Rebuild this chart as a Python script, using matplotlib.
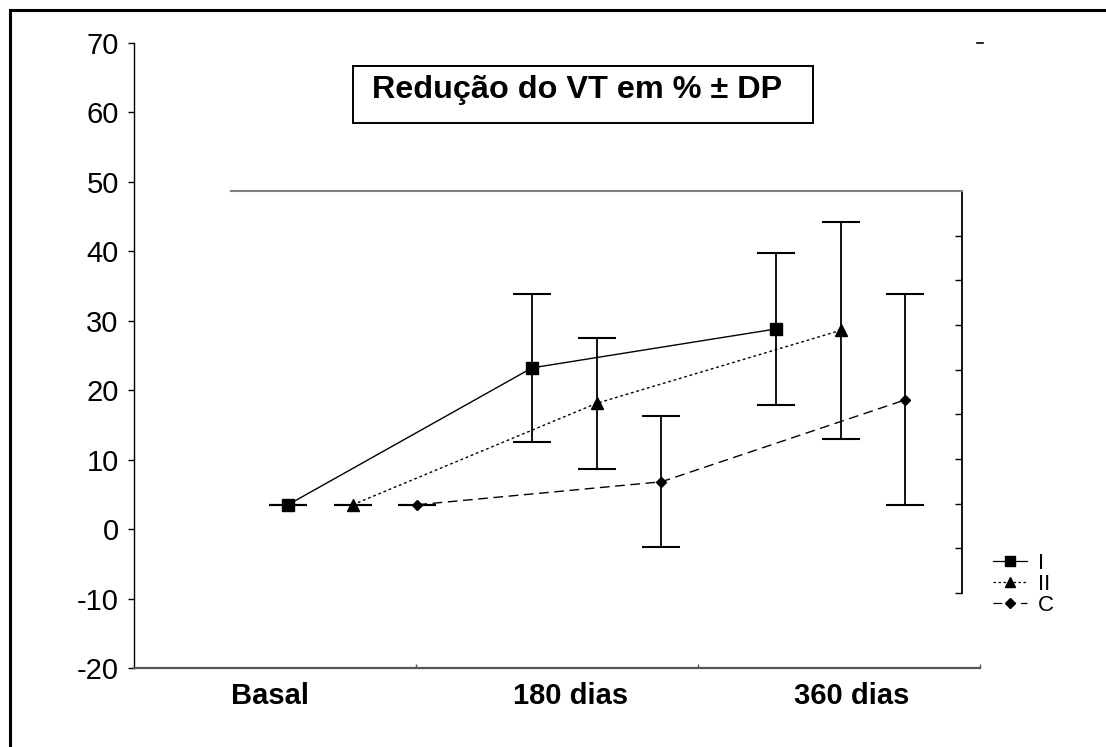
"""
Redução do VT em % ± DP — line chart with error bars for groups I, II and C.
"""

import matplotlib.pyplot as plt
from matplotlib.lines import Line2D
from matplotlib.patches import Rectangle

plt.rcParams["font.family"] = ["Liberation Sans", "DejaVu Sans"]

# ---------------------------------------------------------------------------
# Data
# ---------------------------------------------------------------------------
categories = ["Basal", "180 dias", "360 dias"]
groups = ["I", "II", "C"]
mean_i = [3.5, 23.2, 28.8]
sd_i = [0.0, 10.6, 10.9]
mean_ii = [3.5, 18.1, 28.6]
sd_ii = [0.0, 9.4, 15.6]
mean_c = [3.5, 6.8, 18.6]
sd_c = [0.0, 9.4, 15.2]
y_ticks = [-20, -10, 0, 10, 20, 30, 40, 50, 60, 70]
title = "Redução do VT em % ± DP"

W, H = 1106, 747


def fx(px):
    return px / W


def fy(py):
    return 1 - py / H


fig = plt.figure(figsize=(W / 100, H / 100), dpi=100)

# outer frame (right/bottom edges run off the picture)
fig.patches.append(Rectangle((fx(10), fy(760)), fx(1120), fy(10) - fy(760),
                             transform=fig.transFigure, fill=False,
                             edgecolor="black", linewidth=2.2, zorder=0))

# inner (secondary) frame
ax2 = fig.add_axes([fx(231), fy(593), fx(962 - 231), (593 - 191) / H])
ax2.set_facecolor("none")
ax2.set_ylim(0, 9)
ax2.set_xlim(0, 1)
for s in ("left", "bottom"):
    ax2.spines[s].set_visible(False)
ax2.spines["top"].set_color("#808080")
ax2.spines["top"].set_linewidth(1.5)
ax2.spines["right"].set_linewidth(1.3)
ax2.set_xticks([])
ax2.yaxis.tick_right()
ax2.set_yticks(range(9))
ax2.tick_params(axis="y", direction="in", length=5, width=1, labelright=False)

# main axes
ax = fig.add_axes([fx(134), fy(668), fx(980 - 134), (668 - 42.7) / H])
ax.set_facecolor("none")
ax.set_ylim(-20, 70)
x_left = (134 - 352.7) / 244
x_right = (980 - 352.7) / 244
ax.set_xlim(x_left, x_right)

for s in ("top", "right"):
    ax.spines[s].set_visible(False)
ax.spines["left"].set_linewidth(1.0)
ax.spines["bottom"].set_color("#555555")
ax.spines["bottom"].set_linewidth(1.6)

ax.set_yticks(y_ticks)
ax.set_yticklabels([str(v) for v in y_ticks], fontsize=21)
ax.tick_params(axis="y", direction="out", length=4, width=1, pad=7)

ax.set_xticks([(416 - 352.7) / 244, (698 - 352.7) / 244, x_right])
ax.set_xticklabels([])
ax.tick_params(axis="x", direction="in", length=3, width=1, color="#555555")

# small dash at top-right corner
ax.add_line(Line2D([0.997, 1.003], [1, 1], transform=ax.transAxes,
                   color="black", linewidth=1.2, clip_on=False))

# series
base = [0, 1, 2]
offsets = [-0.265, 0.0, 0.265]
series = [
    (mean_i, sd_i, "s", 8, "-"),
    (mean_ii, sd_ii, "^", 8.5, (0, (2, 2))),
    (mean_c, sd_c, "D", 5.5, (0, (7, 4))),
]
handles = []
for (means, sds, marker, ms, ls), off in zip(series, offsets):
    xs = [b + off for b in base]
    ax.errorbar(xs, means, yerr=sds, fmt=marker, markersize=ms, color="black",
                linestyle=ls, linewidth=1.0, elinewidth=1.3, ecolor="black",
                capsize=14, capthick=1.5, clip_on=False, zorder=3)
    handles.append(Line2D([], [], color="black", marker=marker,
                          markersize=ms * 0.85, linestyle=ls, linewidth=0.9))

# category labels
label_x = [(269.7 - 352.7) / 244, (571 - 352.7) / 244, (851.8 - 352.7) / 244]
for lx, cat in zip(label_x, categories):
    ax.text(lx, -0.045, cat, transform=ax.get_xaxis_transform(),
            ha="center", va="center", fontsize=21, fontweight="bold")

# title box
fig.patches.append(Rectangle((fx(353), fy(123)), fx(813 - 353), (123 - 66) / H,
                             transform=fig.transFigure, fill=False,
                             edgecolor="black", linewidth=1.4))
fig.text(fx(372), fy(98), title, ha="left", va="baseline",
         fontsize=23.3, fontweight="bold")

# legend
fig.legend(handles, groups, loc="upper left",
           bbox_to_anchor=(fx(993), fy(553)), frameon=False, fontsize=16,
           handlelength=1.53, handletextpad=0.5, labelspacing=0.0,
           borderpad=0, borderaxespad=0)

fig.savefig("out.png", dpi=100)
